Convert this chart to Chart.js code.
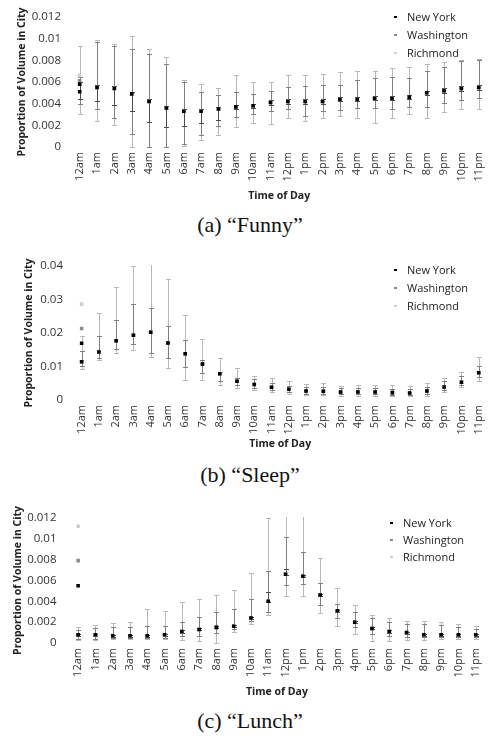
<!DOCTYPE html>
<html>
<head>
<meta charset="utf-8">
<script src="https://cdn.jsdelivr.net/npm/chart.js@4.4.1/dist/chart.umd.min.js"></script>
<style>
  html, body { margin: 0; padding: 0; background: #fff; }
  body { width: 494px; height: 738px; overflow: hidden; position: relative; font-family: 'Open Sans', sans-serif; }
  canvas { position: absolute; left: 0; }
  .legend { position: absolute; font-size: 11px; color: #222; line-height: 18px; }
  .legend div { position: relative; white-space: nowrap; }
  .legend span { position: absolute; left: -13px; top: 8px; width: 3px; height: 2px; }
  .caption { position: absolute; left: 0; width: 500px; text-align: center;
             font-family: 'Liberation Serif', 'Times New Roman', serif; font-size: 22px; line-height: 25px; color: #111; }
</style>
</head>
<body>

<canvas id="funny" width="497" height="205" style="top:0px"></canvas>
<div class="legend" style="left:407px; top:8px">
  <div><span style="background:#000"></span>New York</div>
  <div><span style="background:#8a8a8a"></span>Washington</div>
  <div><span style="background:#cfcfcf"></span>Richmond</div>
</div>
<div class="caption" style="top:212px">(a) “Funny”</div>

<canvas id="sleep" width="497" height="204" style="top:249px"></canvas>
<div class="legend" style="left:407px; top:261px">
  <div><span style="background:#000"></span>New York</div>
  <div><span style="background:#8a8a8a"></span>Washington</div>
  <div><span style="background:#cfcfcf"></span>Richmond</div>
</div>
<div class="caption" style="top:462px">(b) “Sleep”</div>

<canvas id="lunch" width="494" height="203" style="top:498px"></canvas>
<div class="legend" style="left:403px; top:514px; line-height:17px">
  <div><span style="background:#000"></span>New York</div>
  <div><span style="background:#8a8a8a"></span>Washington</div>
  <div><span style="background:#cfcfcf"></span>Richmond</div>
</div>
<div class="caption" style="top:708px">(c) “Lunch”</div>

<script>
const hours = ['12am','1am','2am','3am','4am','5am','6am','7am','8am','9am','10am','11am',
               '12pm','1pm','2pm','3pm','4pm','5pm','6pm','7pm','8pm','9pm','10pm','11pm'];
const cities = ['New York', 'Washington', 'Richmond'];

// "Funny"
const funnyNY   = [0.0058,0.0055,0.0054,0.0049,0.0042,0.0036,0.0033,0.0033,0.0035,0.0037,0.0038,0.0041,0.0042,0.0042,0.0042,0.0044,0.0044,0.0045,0.0045,0.0046,0.0050,0.0052,0.0054,0.0055];
const funnyNYLo = [0.0044,0.0042,0.0039,0.0033,0.0023,0.0018,0.0019,0.0022,0.0025,0.0035,0.0036,0.0039,0.0040,0.0040,0.0040,0.0042,0.0042,0.0043,0.0043,0.0044,0.0048,0.0050,0.0052,0.0053];
const funnyNYHi = [0.0060,0.0057,0.0056,0.0051,0.0044,0.0038,0.0035,0.0035,0.0037,0.0039,0.0040,0.0043,0.0044,0.0044,0.0044,0.0046,0.0046,0.0047,0.0047,0.0048,0.0052,0.0054,0.0056,0.0057];
const funnyWA   = [0.0058,0.0055,0.0054,0.0049,0.0042,0.0036,0.0033,0.0033,0.0035,0.0037,0.0038,0.0041,0.0042,0.0042,0.0042,0.0044,0.0044,0.0045,0.0045,0.0046,0.0050,0.0052,0.0054,0.0055];
const funnyWALo = [0.0040,0.0035,0.0027,0.0012,0.0000,0.0000,0.0003,0.0011,0.0019,0.0028,0.0030,0.0033,0.0035,0.0029,0.0033,0.0034,0.0036,0.0036,0.0035,0.0037,0.0037,0.0041,0.0043,0.0045];
const funnyWAHi = [0.0065,0.0097,0.0093,0.0090,0.0086,0.0077,0.0060,0.0051,0.0048,0.0051,0.0049,0.0052,0.0055,0.0056,0.0057,0.0057,0.0062,0.0064,0.0065,0.0064,0.0070,0.0074,0.0079,0.0080];
const funnyRI   = [0.0058,0.0055,0.0054,0.0049,0.0042,0.0036,0.0033,0.0033,0.0035,0.0037,0.0038,0.0041,0.0042,0.0042,0.0042,0.0044,0.0044,0.0045,0.0045,0.0046,0.0050,0.0052,0.0054,0.0055];
const funnyRILo = [0.0030,0.0024,0.0020,0.0000,0.0000,0.0000,0.0001,0.0006,0.0011,0.0018,0.0022,0.0021,0.0027,0.0024,0.0027,0.0029,0.0027,0.0022,0.0027,0.0030,0.0027,0.0032,0.0035,0.0035];
const funnyRIHi = [0.0093,0.0099,0.0095,0.0102,0.0090,0.0083,0.0062,0.0058,0.0054,0.0066,0.0060,0.0060,0.0066,0.0066,0.0067,0.0069,0.0070,0.0070,0.0073,0.0074,0.0077,0.0078,0.0080,0.0081];
const funnyExtra = [0.0051, 0.0061, 0.0066];   // stray 12am markers (NY, WA, RI)

// "Sleep"
const sleepNY   = [0.0114,0.0143,0.0177,0.0193,0.0202,0.0170,0.0138,0.0107,0.0078,0.0056,0.0046,0.0038,0.0032,0.0027,0.0026,0.0024,0.0024,0.0024,0.0022,0.0021,0.0027,0.0039,0.0053,0.0081];
const sleepWA   = [0.0114,0.0143,0.0177,0.0193,0.0202,0.0170,0.0138,0.0107,0.0078,0.0056,0.0046,0.0038,0.0032,0.0027,0.0026,0.0024,0.0024,0.0024,0.0022,0.0021,0.0027,0.0039,0.0053,0.0081];
const sleepWALo = [0.0100,0.0126,0.0151,0.0166,0.0140,0.0124,0.0099,0.0080,0.0058,0.0046,0.0036,0.0031,0.0024,0.0019,0.0019,0.0017,0.0017,0.0018,0.0016,0.0015,0.0019,0.0029,0.0044,0.0068];
const sleepWAHi = [0.0146,0.0191,0.0239,0.0285,0.0275,0.0221,0.0178,0.0120,0.0085,0.0065,0.0062,0.0050,0.0043,0.0039,0.0039,0.0035,0.0035,0.0035,0.0033,0.0032,0.0038,0.0056,0.0073,0.0102];
const sleepRI   = [0.0114,0.0143,0.0177,0.0193,0.0202,0.0170,0.0138,0.0107,0.0078,0.0056,0.0046,0.0038,0.0032,0.0027,0.0026,0.0024,0.0024,0.0024,0.0022,0.0021,0.0027,0.0039,0.0053,0.0081];
const sleepRILo = [0.0093,0.0119,0.0141,0.0149,0.0127,0.0096,0.0061,0.0060,0.0044,0.0036,0.0030,0.0024,0.0018,0.0014,0.0014,0.0012,0.0012,0.0013,0.0011,0.0011,0.0013,0.0024,0.0038,0.0058];
const sleepRIHi = [0.0190,0.0259,0.0338,0.0400,0.0430,0.0360,0.0253,0.0182,0.0125,0.0094,0.0072,0.0065,0.0056,0.0048,0.0050,0.0043,0.0046,0.0046,0.0046,0.0043,0.0050,0.0066,0.0083,0.0127];
const sleepExtra = [0.0169, 0.0213, 0.0286];

// "Lunch"
const lunchNY   = [0.0008,0.0008,0.0007,0.0007,0.0007,0.0008,0.0011,0.0013,0.0015,0.0016,0.0024,0.0040,0.0066,0.0064,0.0046,0.0031,0.0020,0.0014,0.0011,0.0010,0.0008,0.0008,0.0008,0.0008];
const lunchNYLo = [0.0007,0.0007,0.0006,0.0006,0.0006,0.0007,0.0010,0.0012,0.0014,0.0015,0.0023,0.0039,0.0065,0.0063,0.0045,0.0030,0.0019,0.0013,0.0010,0.0009,0.0007,0.0007,0.0007,0.0007];
const lunchNYHi = [0.0009,0.0009,0.0008,0.0008,0.0008,0.0009,0.0012,0.0014,0.0016,0.0017,0.0025,0.0049,0.0071,0.0065,0.0047,0.0032,0.0021,0.0015,0.0012,0.0011,0.0009,0.0009,0.0009,0.0009];
const lunchWA   = [0.0008,0.0008,0.0007,0.0007,0.0007,0.0008,0.0011,0.0013,0.0015,0.0016,0.0024,0.0040,0.0066,0.0064,0.0046,0.0031,0.0020,0.0014,0.0011,0.0010,0.0008,0.0008,0.0008,0.0008];
const lunchWALo = [0.0004,0.0004,0.0005,0.0005,0.0005,0.0005,0.0007,0.0007,0.0010,0.0013,0.0021,0.0030,0.0056,0.0057,0.0036,0.0024,0.0015,0.0009,0.0007,0.0006,0.0006,0.0006,0.0006,0.0006];
const lunchWAHi = [0.0012,0.0014,0.0015,0.0015,0.0016,0.0016,0.0020,0.0025,0.0030,0.0033,0.0042,0.0069,0.0102,0.0087,0.0058,0.0037,0.0030,0.0024,0.0020,0.0018,0.0018,0.0017,0.0015,0.0013];
const lunchRI   = [0.0008,0.0008,0.0007,0.0007,0.0007,0.0008,0.0011,0.0013,0.0015,0.0016,0.0024,0.0040,0.0066,0.0064,0.0046,0.0031,0.0020,0.0014,0.0011,0.0010,0.0008,0.0008,0.0008,0.0008];
const lunchRILo = [0.0003,0.0003,0.0004,0.0004,0.0004,0.0004,0.0003,0.0002,0.0000,0.0011,0.0018,0.0027,0.0045,0.0045,0.0029,0.0016,0.0009,0.0002,0.0002,0.0003,0.0003,0.0004,0.0004,0.0004];
const lunchRIHi = [0.0015,0.0017,0.0019,0.0020,0.0033,0.0031,0.0039,0.0042,0.0046,0.0051,0.0067,0.0120,0.0135,0.0135,0.0082,0.0053,0.0036,0.0027,0.0024,0.0021,0.0021,0.0020,0.0018,0.0016];
const lunchExtra = [0.0055, 0.0079, 0.0112];

const markColors = ['#000000', '#8a8a8a', '#cfcfcf'];
const barColors  = ['#4a4a4a', '#7f7f7f', '#b8b8b8'];

Chart.defaults.font.family = "'Open Sans', sans-serif";
Chart.defaults.color = '#333';

// draws vertical error bars with small caps, using the chart's own scales
const errorBars = {
  id: 'errorBars',
  beforeDatasetsDraw(chart) {
    const { ctx, chartArea, scales: { y } } = chart;
    ctx.save();
    ctx.beginPath();
    ctx.rect(chartArea.left, chartArea.top - 1, chartArea.width, chartArea.height + 2);
    ctx.clip();
    ctx.lineWidth = 1;
    for (let d = chart.data.datasets.length - 1; d >= 0; d--) {
      const ds = chart.data.datasets[d];
      if (!ds.errLo) continue;
      const meta = chart.getDatasetMeta(d);
      ctx.strokeStyle = ds.errColor;
      meta.data.forEach((pt, i) => {
        const lo = ds.errLo[i], hi = ds.errHi[i];
        if (lo == null || hi == null) return;
        const px = Math.round(pt.x) + 0.5;
        const yl = Math.round(y.getPixelForValue(lo)) + 0.5;
        const yh = Math.round(y.getPixelForValue(hi)) + 0.5;
        ctx.beginPath();
        ctx.moveTo(px, yl); ctx.lineTo(px, yh);
        ctx.moveTo(px - 2.5, yl); ctx.lineTo(px + 2.5, yl);
        ctx.moveTo(px - 2.5, yh); ctx.lineTo(px + 2.5, yh);
        ctx.stroke();
      });
    }
    ctx.restore();
  }
};

function makeChart(id, p) {
  const series = [
    { data: p.ny, lo: p.nyLo, hi: p.nyHi },
    { data: p.wa, lo: p.waLo, hi: p.waHi },
    { data: p.ri, lo: p.riLo, hi: p.riHi }
  ];
  const datasets = series.map((s, i) => ({
    label: cities[i],
    data: s.data,
    errLo: s.lo,
    errHi: s.hi,
    errColor: barColors[i],
    showLine: false,
    pointStyle: 'rect',
    pointRadius: 2.5,
    pointBorderWidth: 0,
    pointBackgroundColor: markColors[i]
  }));
  p.extra.forEach((v, i) => datasets.push({
    label: cities[i] + ' (12am)',
    data: [{ x: hours[0], y: v }],
    showLine: false,
    pointStyle: 'rect',
    pointRadius: 2.5,
    pointBorderWidth: 0,
    pointBackgroundColor: markColors[i]
  }));

  const canvas = document.getElementById(id);
  new Chart(canvas.getContext('2d'), {
    type: 'line',
    data: { labels: hours, datasets: datasets },
    plugins: [errorBars],
    options: {
      responsive: false,
      animation: false,
      layout: { padding: { top: 14, right: 0, left: 0, bottom: 0 } },
      plugins: { legend: { display: false }, tooltip: { enabled: false } },
      scales: {
        x: {
          offset: true,
          grid: { display: false, drawTicks: false },
          border: { display: false },
          ticks: { autoSkip: false, maxRotation: 90, minRotation: 90, padding: 5, font: { size: 11 }, color: '#333' },
          title: { display: true, text: 'Time of Day', font: { size: 10.5, weight: 'bold' }, color: '#222', padding: { top: 0, bottom: 3 } },
          afterFit(scale) { scale.height = p.xHeight; }
        },
        y: {
          min: 0,
          max: p.yMax,
          grid: { display: false, drawTicks: false },
          border: { display: false },
          ticks: {
            stepSize: p.yStep, padding: p.yPad, font: { size: 11.5 }, color: '#333',
            callback: v => String(Number(v.toFixed(4)))
          },
          title: { display: true, text: 'Proportion of Volume in City', font: { size: 10.5, weight: 'bold' }, color: '#222', padding: { top: p.yTitlePad, bottom: 0 } },
          afterFit(scale) { scale.width = p.yWidth; }
        }
      }
    }
  });
}

makeChart('funny', {
  ny: funnyNY, nyLo: funnyNYLo, nyHi: funnyNYHi,
  wa: funnyWA, waLo: funnyWALo, waHi: funnyWAHi,
  ri: funnyRI, riLo: funnyRILo, riHi: funnyRIHi,
  extra: funnyExtra,
  yMax: 0.012, yStep: 0.002, yWidth: 71, yPad: 10, yTitlePad: 16, xHeight: 58
});

makeChart('sleep', {
  ny: sleepNY, nyLo: null, nyHi: null,
  wa: sleepWA, waLo: sleepWALo, waHi: sleepWAHi,
  ri: sleepRI, riLo: sleepRILo, riHi: sleepRIHi,
  extra: sleepExtra,
  yMax: 0.04, yStep: 0.01, yWidth: 73, yPad: 10, yTitlePad: 23, xHeight: 53
});

makeChart('lunch', {
  ny: lunchNY, nyLo: lunchNYLo, nyHi: lunchNYHi,
  wa: lunchWA, waLo: lunchWALo, waHi: lunchWAHi,
  ri: lunchRI, riLo: lunchRILo, riHi: lunchRIHi,
  extra: lunchExtra,
  yMax: 0.012, yStep: 0.002, yWidth: 69.5, yPad: 13, yTitlePad: 12, xHeight: 58
});
</script>
</body>
</html>
